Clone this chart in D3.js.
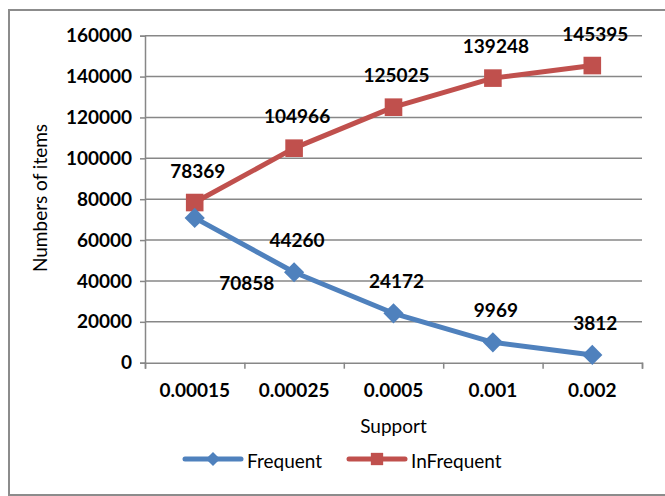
<!DOCTYPE html>
<html>
<head>
<meta charset="utf-8">
<script src="https://cdn.jsdelivr.net/npm/d3@7"></script>
<style>
  html, body { margin: 0; padding: 0; background: #fff; }
  svg { display: block; }
  text { font-family: Lato, "Liberation Sans", sans-serif; fill: #000; }
</style>
</head>
<body>
<svg id="chart" width="665" height="496"></svg>
<script>
// Support thresholds (category axis)
const categories = ["0.00015", "0.00025", "0.0005", "0.001", "0.002"];
// Item counts per support threshold
const frequent   = [70858, 44260, 24172, 9969, 3812];
const infrequent = [78369, 104966, 125025, 139248, 145395];
// Value axis ticks
const yTicks = [0, 20000, 40000, 60000, 80000, 100000, 120000, 140000, 160000];
const seriesNames = ["Frequent", "InFrequent"];

const W = 665, H = 496;
const plot = { left: 145, right: 642, top: 35.7, bottom: 362.7 };
const blue = "#4F81BD", red = "#C0504D", grid = "#878787";
const boldSize = "19px";

const svg = d3.select("#chart");

// chart frame
svg.append("rect")
  .attr("x", 9).attr("y", 10)
  .attr("width", W).attr("height", H - 11)
  .attr("fill", "none").attr("stroke", "#8c8c8c").attr("stroke-width", 2);

const x = d3.scaleBand().domain(categories).range([plot.left, plot.right]).padding(0);
const xEdge = d3.scaleLinear().domain([0, categories.length]).range([plot.left, plot.right]);
const y = d3.scaleLinear().domain([0, 160000]).range([plot.bottom, plot.top]);

// horizontal gridlines
svg.append("g")
  .selectAll("line")
  .data(yTicks.filter(t => t > 0))
  .join("line")
  .attr("x1", plot.left).attr("x2", plot.right)
  .attr("y1", d => y(d)).attr("y2", d => y(d))
  .attr("stroke", grid).attr("stroke-width", 1.5);

// value axis
const yAxis = svg.append("g")
  .attr("transform", `translate(${plot.left},0)`)
  .call(d3.axisLeft(y).tickValues(yTicks).tickSize(5).tickPadding(8).tickFormat(d3.format("d")));
yAxis.select(".domain").attr("stroke", grid).attr("stroke-width", 1.5);
yAxis.selectAll(".tick line").attr("stroke", grid).attr("stroke-width", 1.5);
yAxis.selectAll(".tick text")
  .style("font-family", "Lato, 'Liberation Sans', sans-serif")
  .style("font-size", boldSize).style("font-weight", "bold").attr("fill", "#000");

// category axis: tick marks on category boundaries
const xTickAxis = svg.append("g")
  .attr("transform", `translate(0,${plot.bottom})`)
  .call(d3.axisBottom(xEdge).tickValues(d3.range(categories.length + 1)).tickSize(6).tickFormat(""));
xTickAxis.select(".domain").attr("stroke", grid).attr("stroke-width", 1.5);
xTickAxis.selectAll(".tick line").attr("stroke", grid).attr("stroke-width", 1.5);

// category labels centred in each band
const xLabelAxis = svg.append("g")
  .attr("transform", `translate(0,${plot.bottom})`)
  .call(d3.axisBottom(x).tickSize(0).tickPadding(21));
xLabelAxis.select(".domain").remove();
xLabelAxis.selectAll(".tick text")
  .style("font-family", "Lato, 'Liberation Sans', sans-serif")
  .style("font-size", boldSize).style("font-weight", "bold").attr("fill", "#000");

// axis titles
svg.append("text")
  .attr("x", (plot.left + plot.right) / 2).attr("y", 433)
  .attr("text-anchor", "middle").style("font-size", "19px")
  .text("Support");
svg.append("text")
  .attr("transform", "translate(47,198) rotate(-90)")
  .attr("text-anchor", "middle").style("font-size", "19px")
  .text("Numbers of items");

const line = d3.line().x((d, i) => x(categories[i]) + x.bandwidth() / 2).y(d => y(d));
const cx = i => x(categories[i]) + x.bandwidth() / 2;

const diamond = d3.symbol().type(d3.symbolDiamond2).size(260);
const square = d3.symbol().type(d3.symbolSquare).size(310);

function drawSeries(values, color, sym) {
  const g = svg.append("g");
  g.append("path").datum(values)
    .attr("d", line).attr("fill", "none")
    .attr("stroke", color).attr("stroke-width", 5).attr("stroke-linejoin", "round");
  g.selectAll("path.mk").data(values).join("path")
    .attr("class", "mk")
    .attr("d", sym)
    .attr("transform", (d, i) => `translate(${cx(i)},${y(d)})`)
    .attr("fill", color);
  return g;
}

drawSeries(infrequent, red, square);
drawSeries(frequent, blue, diamond);

// data labels; the first Frequent label sits below-right of its point
function labels(values, offsets) {
  svg.append("g").selectAll("text").data(values).join("text")
    .attr("x", (d, i) => cx(i) + offsets(i)[0])
    .attr("y", (d, i) => y(d) + offsets(i)[1])
    .attr("text-anchor", "middle")
    .style("font-size", boldSize).style("font-weight", "bold")
    .text(d => d);
}
labels(infrequent, () => [3, -25]);
labels(frequent, i => i === 0 ? [52, 72] : [3, -25]);

// legend
const legend = [
  { name: seriesNames[0], color: blue, sym: diamond, x0: 185, tx: 247 },
  { name: seriesNames[1], color: red, sym: square, x0: 349, tx: 411 }
];
const ly = 459;
const lg = svg.append("g");
legend.forEach(d => {
  lg.append("line")
    .attr("x1", d.x0).attr("x2", d.x0 + 56).attr("y1", ly).attr("y2", ly)
    .attr("stroke", d.color).attr("stroke-width", 5).attr("stroke-linecap", "round");
  lg.append("path").attr("d", d.sym)
    .attr("transform", `translate(${d.x0 + 28},${ly}) scale(0.7)`)
    .attr("fill", d.color);
  lg.append("text").attr("x", d.tx).attr("y", ly + 9)
    .style("font-size", "19px").text(d.name);
});
</script>
</body>
</html>
